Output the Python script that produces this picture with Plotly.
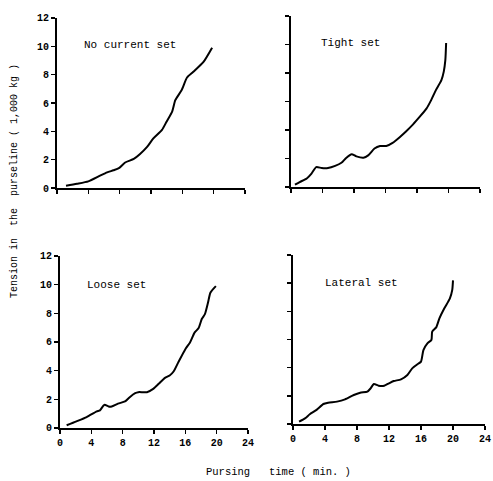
import plotly.graph_objects as go

# ---- data ----
no_current_x = [1.15, 2.55, 4.0, 5.5, 6.4, 7.2, 7.9, 8.7, 9.8, 10.6, 11.5, 12.3, 13.4, 14.0, 14.7, 15.1, 15.9, 16.6, 17.4, 18.7, 19.8]
no_current_y = [0.16, 0.3, 0.47, 0.87, 1.1, 1.25, 1.4, 1.8, 2.05, 2.4, 2.9, 3.5, 4.1, 4.7, 5.4, 6.2, 6.9, 7.8, 8.2, 8.9, 9.9]

tight_x = [0.5, 1.1, 2.0, 2.6, 3.2, 3.9, 4.7, 5.6, 6.4, 7.0, 7.7, 8.3, 9.2, 9.8, 10.6, 11.3, 12.1, 12.9, 13.8, 14.6, 15.5, 16.3, 17.2, 17.8, 18.4, 19.1, 19.4, 19.6, 19.7]
tight_y = [0.16, 0.35, 0.6, 0.94, 1.4, 1.33, 1.33, 1.48, 1.7, 2.04, 2.3, 2.15, 2.06, 2.22, 2.7, 2.88, 2.88, 3.1, 3.5, 3.9, 4.4, 4.9, 5.5, 6.1, 6.8, 7.5, 8.1, 8.9, 10.1]

loose_x = [0.85, 2.1, 3.4, 4.7, 5.1, 5.5, 5.7, 6.2, 6.6, 7.4, 8.3, 8.9, 9.6, 10.0, 11.1, 11.9, 12.6, 13.4, 14.0, 14.5, 15.1, 16.0, 16.6, 17.2, 17.7, 18.1, 18.5, 18.9, 19.2, 19.9]
loose_y = [0.19, 0.46, 0.76, 1.16, 1.23, 1.53, 1.62, 1.5, 1.5, 1.7, 1.85, 2.15, 2.43, 2.5, 2.5, 2.73, 3.08, 3.5, 3.66, 3.94, 4.58, 5.5, 5.97, 6.67, 6.97, 7.6, 7.94, 8.75, 9.44, 9.9]

lateral_x = [0.76, 1.5, 2.1, 2.95, 3.8, 4.4, 5.5, 6.5, 7.6, 8.4, 9.3, 9.7, 10.1, 10.7, 11.4, 12.0, 12.6, 13.5, 14.3, 14.9, 15.6, 16.0, 16.3, 16.8, 17.3, 17.4, 17.9, 18.3, 18.9, 19.6, 19.9, 20.0]
lateral_y = [0.17, 0.4, 0.69, 1.0, 1.42, 1.51, 1.59, 1.75, 2.06, 2.22, 2.3, 2.53, 2.84, 2.72, 2.72, 2.89, 3.05, 3.17, 3.48, 3.95, 4.26, 4.43, 5.25, 5.73, 5.96, 6.56, 6.86, 7.5, 8.2, 8.9, 9.5, 10.2]

panel_titles = ["No current set", "Tight set", "Loose set", "Lateral set"]
title_pos_x = [3.2, 3.5, 3.2, 3.7]
title_pos_y = [10.1, 10.1, 10.0, 10.0]

x_ticks = [0, 4, 8, 12, 16, 20, 24]
y_ticks = [0, 2, 4, 6, 8, 10, 12]

series = [(no_current_x, no_current_y), (tight_x, tight_y), (loose_x, loose_y), (lateral_x, lateral_y)]

# ---- layout ----
x_domains = [[0.1156, 0.4970], [0.5903, 0.9736], [0.1217, 0.5030], [0.5943, 0.9838]]
y_domains = [[0.6091, 0.9626], [0.6112, 0.9667], [0.1102, 0.4678], [0.1185, 0.4699]]
show_x_labels = [False, False, True, True]
show_y_labels = [True, False, True, False]

MONO = "Liberation Mono"
fig = go.Figure()
layout = dict(
    width=493, height=481,
    margin=dict(l=0, r=0, t=0, b=0),
    paper_bgcolor="white", plot_bgcolor="white",
    showlegend=False,
    annotations=[],
)

for i, (xs, ys) in enumerate(series):
    n = "" if i == 0 else str(i + 1)
    fig.add_trace(go.Scatter(x=xs, y=ys, mode="lines",
                             line=dict(color="black", width=2, shape="spline", smoothing=0.6),
                             xaxis="x" + n, yaxis="y" + n, hoverinfo="skip", cliponaxis=False))
    tickfont = dict(family=MONO, size=10, color="black", weight="bold")
    layout["xaxis" + n] = dict(
        domain=x_domains[i], anchor="y" + n, range=[0, 24],
        tickvals=x_ticks, ticktext=[str(v) for v in x_ticks],
        showticklabels=show_x_labels[i], ticks="outside", ticklen=4, tickwidth=1.5,
        tickcolor="black", showline=True, linecolor="black", linewidth=2,
        showgrid=False, zeroline=False, tickfont=tickfont, fixedrange=True,
        automargin=False, ticklabeloverflow="allow",
    )
    layout["yaxis" + n] = dict(
        domain=y_domains[i], anchor="x" + n, range=[0, 12],
        tickvals=y_ticks, ticktext=[str(v) for v in y_ticks],
        showticklabels=show_y_labels[i], ticks="outside", ticklen=4, tickwidth=1.5,
        tickcolor="black", showline=True, linecolor="black", linewidth=2,
        showgrid=False, zeroline=False, tickfont=tickfont, fixedrange=True,
        automargin=False, ticklabeloverflow="allow",
    )
    layout["annotations"].append(dict(
        text=panel_titles[i], x=title_pos_x[i], y=title_pos_y[i],
        xref="x" + n, yref="y" + n, xanchor="left", yanchor="middle",
        showarrow=False, font=dict(family=MONO, size=11, color="black"),
    ))

layout["annotations"].append(dict(
    text="Tension in  the  purseline ( 1,000 kg )", x=15 / 493, y=1 - 181 / 481,
    xref="paper", yref="paper", xanchor="center", yanchor="middle",
    textangle=-90, showarrow=False, font=dict(family=MONO, size=10, color="black"),
))
layout["annotations"].append(dict(
    text="Pursing   time ( min. )", x=278 / 493, y=1 - 472 / 481,
    xref="paper", yref="paper", xanchor="center", yanchor="middle",
    showarrow=False, font=dict(family=MONO, size=10.5, color="black"),
))

fig.update_layout(**layout)
fig.write_html("out.html", config={"displayModeBar": False, "staticPlot": True},
               post_script="document.body.style.margin='0';document.body.style.overflow='hidden';")
